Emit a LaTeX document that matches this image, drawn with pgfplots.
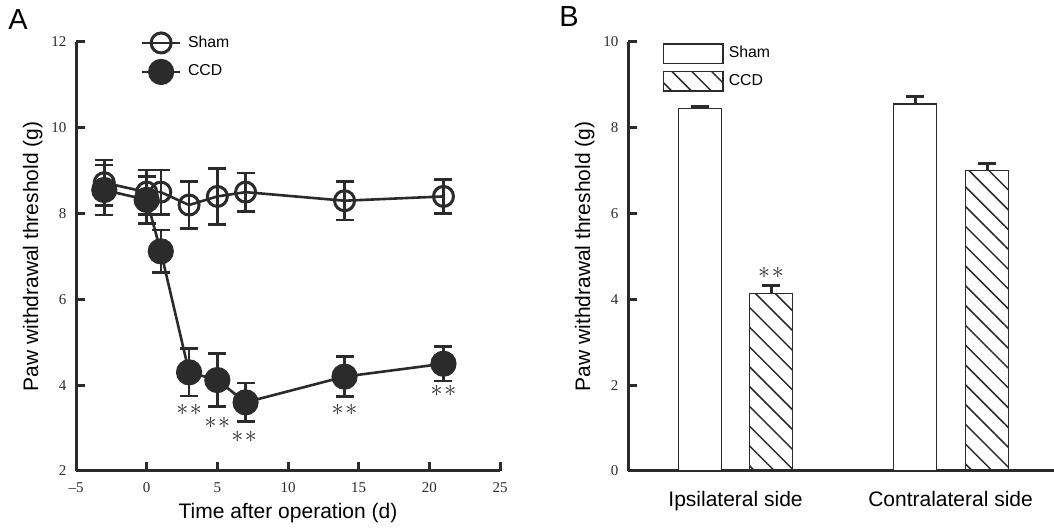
\documentclass[border=0pt]{standalone}
\usepackage{fontspec}
\setmainfont{Liberation Sans}
\newfontfamily\tnr{Liberation Serif}
\usepackage{pgfplots}
\usepackage{pgfplotstable}
\pgfplotsset{compat=1.18}
\usetikzlibrary{patterns.meta}
\definecolor{dk}{HTML}{2B2B2B}

% panel A: time course
\pgfplotstableread{
x y e
-3 8.72 0.53
0 8.50 0.52
1 8.50 0.52
3 8.20 0.55
5 8.40 0.65
7 8.50 0.45
14 8.30 0.45
21 8.40 0.40
}\shamA
\pgfplotstableread{
x y e
-3 8.55 0.58
0 8.32 0.55
1 7.12 0.50
3 4.30 0.55
5 4.12 0.62
7 3.60 0.45
14 4.20 0.47
21 4.50 0.40
}\ccdA
% panel B: bars
\pgfplotstableread{
x y e
0.835 8.45 0.05
1.835 8.55 0.17
}\shamB
\pgfplotstableread{
x y e
1.165 4.14 0.18
2.170 7.00 0.17
}\ccdB

\tikzset{stars/.style={text=dk, font=\fontsize{12}{14}\selectfont, inner sep=0pt}}
\newcommand{\sig}{$\ast$\hspace{0.8pt}$\ast$}
\pgfplotsset{
  panel/.style={
    scale only axis, height=214.5pt,
    axis x line*=bottom, axis y line*=left,
    axis line style={line width=1.5pt, dk},
    tick align=inside, major tick length=4.5pt,
    tick style={line width=1.5pt, dk},
    yticklabel style={font=\tnr\fontsize{7.5}{9}\selectfont, text=dk, anchor=east, inner sep=0pt, xshift=-4.6pt},
    label style={font=\fontsize{10.5}{12}\selectfont, text=black},
    legend style={draw=none, fill=none, inner sep=0pt, anchor=north west,
      nodes={inner sep=0pt}, font=\fontsize{7.9}{9}\selectfont},
    legend cell align=left,
  },
}

\begin{document}
\begin{tikzpicture}
\useasboundingbox (0,0) rectangle (527pt,264pt);
\node[anchor=base west, inner sep=0pt, font=\fontsize{14.5}{17}\selectfont] at (4pt,249.35pt) {A};
\node[anchor=base west, inner sep=0pt, font=\fontsize{14.5}{17}\selectfont] at (279.5pt,250.65pt) {B};

\begin{axis}[panel,
  at={(38pt,28.5pt)}, anchor=south west, width=212pt,
  xmin=-5, xmax=25, ymin=2, ymax=12,
  xtick={-5,0,...,25}, xticklabels={–5,0,5,10,15,20,25},
  ytick={2,4,...,12}, yticklabels={2,4,6,8,10,12},
  xticklabel style={font=\tnr\fontsize{7.5}{9}\selectfont, text=dk, anchor=base, yshift=-10.8pt},
  xlabel={Time after operation (d)},
  ylabel={Paw withdrawal threshold (g)},
  xlabel style={at={(rel axis cs:0.5,-0.1119)}, anchor=base},
  ylabel style={at={(rel axis cs:-0.0896,0.5)}, anchor=base},
  legend style={at={(0.152,1.022)}, row sep=3.2pt, /tikz/column sep=3.3pt},
  legend image code/.code={\draw[mark repeat=2,mark phase=2,#1] plot coordinates {(0pt,0pt) (9.5pt,0pt) (19pt,0pt)};},
  clip=false,
]
\addplot[dk, line width=1.3pt, mark=o, mark size=5pt, mark options={line width=1.5pt},
  error bars/.cd, y dir=both, y explicit,
  error bar style={line width=1.3pt}, error mark options={rotate=90, line width=1.3pt, mark size=4.5pt}]
  table[x=x, y=y, y error=e] {\shamA};
\addplot[dk, line width=1.3pt, mark=*, mark size=6.3pt, mark options={fill=dk, line width=0.5pt},
  error bars/.cd, y dir=both, y explicit,
  error bar style={line width=1.3pt}, error mark options={rotate=90, line width=1.3pt, mark size=4.5pt}]
  table[x=x, y=y, y error=e] {\ccdA};
\legend{Sham, CCD}
\node[stars] at (axis cs:3,3.42) {\sig};
\node[stars] at (axis cs:5,3.12) {\sig};
\node[stars] at (axis cs:6.9,2.79) {\sig};
\node[stars] at (axis cs:14,3.42) {\sig};
\node[stars] at (axis cs:21,3.86) {\sig};
\end{axis}

\begin{axis}[panel,
  at={(314pt,28.5pt)}, anchor=south west, width=213pt,
  xmin=0.5, xmax=2.481, ymin=0, ymax=10,
  xtick={1,2}, xticklabels={Ipsilateral side, Contralateral side},
  major x tick style={draw=none},
  xticklabel style={font=\fontsize{10.5}{12}\selectfont, text=black, anchor=base, yshift=-17.8pt},
  ytick={0,2,...,10}, yticklabels={0,2,4,6,8,10},
  ylabel={Paw withdrawal threshold (g)},
  ylabel style={at={(rel axis cs:-0.0892,0.5)}, anchor=base},
  legend style={at={(0.0805,0.9984)}, row sep=3.4pt, /tikz/column sep=2.6pt},
  legend image code/.code={\draw[#1] (0pt,-4.875pt) rectangle (29.7pt,4.875pt);},
  clip=false,
]
\addplot[ybar, bar width=21.5pt, bar shift=0pt, draw=dk, line width=0.75pt, fill=white,
  error bars/.cd, y dir=plus, y explicit,
  error bar style={line width=1.5pt, dk}, error mark options={rotate=90, line width=1.5pt, mark size=4.5pt, dk}]
  table[x=x, y=y, y error=e] {\shamB};
\addplot[ybar, bar width=21.5pt, bar shift=0pt, draw=dk, line width=0.75pt,
  pattern={Lines[angle=-45, distance=7pt, line width=0.75pt]}, pattern color=dk,
  error bars/.cd, y dir=plus, y explicit,
  error bar style={line width=1.5pt, dk}, error mark options={rotate=90, line width=1.5pt, mark size=4.5pt, dk}]
  table[x=x, y=y, y error=e] {\ccdB};
\legend{Sham, CCD}
\node[stars] at (axis cs:1.165,4.62) {\sig};
\end{axis}
\end{tikzpicture}
\end{document}
